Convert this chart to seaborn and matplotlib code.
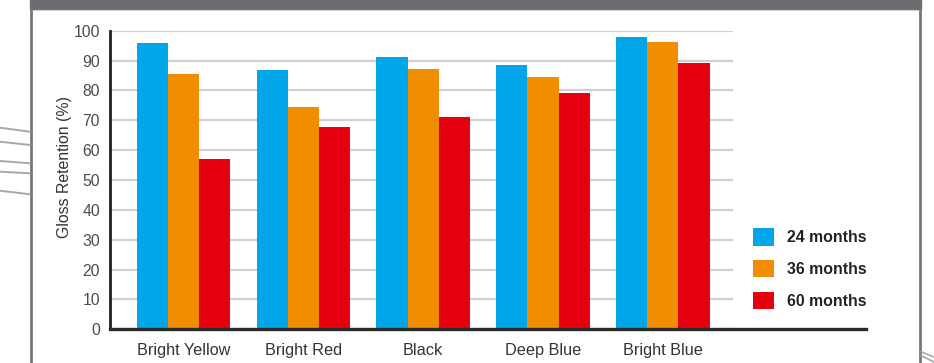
import matplotlib
matplotlib.use("Agg")
import matplotlib.pyplot as plt
from matplotlib.lines import Line2D
from matplotlib.patches import Rectangle
import pandas as pd
import seaborn as sns

# Gloss retention by colour after outdoor exposure
colours = ["Bright Yellow", "Bright Red", "Black", "Deep Blue", "Bright Blue"]
periods = ["24 months", "36 months", "60 months"]
retention_24 = [95.8, 86.8, 91.2, 88.5, 97.9]
retention_36 = [85.5, 74.4, 87.2, 84.5, 96.2]
retention_60 = [56.9, 67.7, 71.1, 79.1, 89.2]
y_ticks = [0, 10, 20, 30, 40, 50, 60, 70, 80, 90, 100]

period_colours = ["#00A6E7", "#F08D00", "#E4000F"]

rows = []
for period, values in zip(periods, [retention_24, retention_36, retention_60]):
    for colour, v in zip(colours, values):
        rows.append({"Colour": colour, "Period": period, "Retention": v})
df = pd.DataFrame(rows)

sns.set_style("white")
plt.rcParams["font.family"] = ["Liberation Sans", "DejaVu Sans"]

fig = plt.figure(figsize=(9.34, 3.63), dpi=100)
ax = fig.add_axes([0.1175, 0.0928, 0.927 - 0.1175, 0.9154 - 0.0928])

sns.barplot(data=df, x="Colour", y="Retention", hue="Period",
            order=colours, hue_order=periods, palette=period_colours,
            width=0.782, saturation=1, linewidth=0, errorbar=None,
            ax=ax, zorder=3)

ax.set_xlim(-0.617, 5.696)
ax.set_ylim(0, 100)
ax.set_yticks(y_ticks)
ax.set_yticklabels([str(t) for t in y_ticks])

# horizontal grid only over the bar area
ax.hlines(y_ticks, -0.617, 4.586, colors="#cfcfcf", linewidth=1.6, zorder=1)

for side in ["top", "right"]:
    ax.spines[side].set_visible(False)
ax.spines["left"].set_color("#1e1e1e")
ax.spines["left"].set_linewidth(2)
ax.spines["bottom"].set_color("#2a2a2a")
ax.spines["bottom"].set_linewidth(2.4)
ax.spines["left"].set_zorder(5)
ax.spines["bottom"].set_zorder(5)

ax.tick_params(axis="both", length=0, colors="#333333")
ax.tick_params(axis="y", pad=7, labelsize=11.3, labelcolor="#4a4a4a")
ax.tick_params(axis="x", pad=10, labelsize=11.7)
ax.set_xlabel("")
ax.set_ylabel("Gloss Retention (%)", fontsize=11.4, color="#333333",
              labelpad=1, y=0.542)

handles, labels = ax.get_legend_handles_labels()
ax.legend(handles, labels, loc="upper left", bbox_to_anchor=(0.806, 0.372),
          bbox_transform=fig.transFigure, frameon=False, borderpad=0,
          borderaxespad=0, handlelength=1.33, handleheight=1.33,
          handletextpad=0.8, labelspacing=0.9,
          prop={"size": 11.4, "weight": "bold"}, labelcolor="#222222")

# page frame: dark header band and side rules
W, H = 934.0, 363.0
fig.patches.append(Rectangle((30 / W, 1 - 9 / H), (921 - 30) / W, 9 / H,
                             transform=fig.transFigure, color="#6b6a6f", zorder=0))
fig.lines.append(Line2D([30 / W, 921 / W], [1 - 9.8 / H, 1 - 9.8 / H],
                        transform=fig.transFigure, color="#cfcfcf", lw=0.8))
fig.lines.append(Line2D([31 / W, 31 / W], [0, 1 - 9 / H],
                        transform=fig.transFigure, color="#77767a", lw=2))
fig.lines.append(Line2D([919.5 / W, 919.5 / W], [0, 1 - 9 / H],
                        transform=fig.transFigure, color="#77767a", lw=2))

# faint background strokes at the page edges
for y0, y1 in [(127.7, 131.7), (141.7, 145), (161, 163.3), (171.7, 173.3), (190.7, 194.3)]:
    fig.lines.append(Line2D([0, 30 / W], [1 - y0 / H, 1 - y1 / H],
                            transform=fig.transFigure, color="#a8a8a8", lw=1.4))
for y0, y1 in [(351.7, 357), (355.5, 362)]:
    fig.lines.append(Line2D([921 / W, 1], [1 - y0 / H, 1 - y1 / H],
                            transform=fig.transFigure, color="#a8a8a8", lw=1.2))

fig.savefig("out.png", dpi=100)
